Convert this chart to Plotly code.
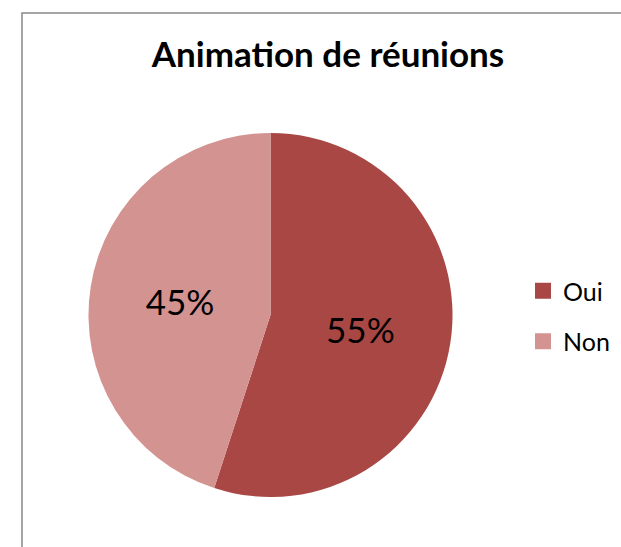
import plotly.graph_objects as go

# Survey answers
categories = ["Oui", "Non"]
shares = [55, 45]
colors = ["#A94744", "#D39391"]
title_text = "Animation de réunions"

W, H = 621, 547
FONT = "Lato"

fig = go.Figure()

fig.add_trace(go.Pie(
    labels=categories,
    values=shares,
    sort=False,
    direction="clockwise",
    rotation=0,
    marker=dict(colors=colors, line=dict(width=0)),
    textinfo="percent",
    texttemplate="%{percent:.0%}",
    textposition="inside",
    insidetextorientation="horizontal",
    insidetextfont=dict(family=FONT, size=35, color="#000000"),
    showlegend=False,
    hoverinfo="label+percent",
    domain=dict(x=[88 / W, 453 / W], y=[1 - 497 / H, 1 - 133 / H]),
))

# Legend entries, one group per category so the gap between them can be set
for name, col in zip(categories, colors):
    fig.add_trace(go.Scatter(
        x=[None], y=[None], mode="markers", name=name, legendgroup=name,
        marker=dict(symbol="square", size=16, color=col, line=dict(width=0)),
        showlegend=True,
    ))

fig.update_layout(
    width=W, height=H,
    margin=dict(l=0, r=0, t=0, b=0),
    paper_bgcolor="white",
    plot_bgcolor="rgba(0,0,0,0)",
    title=dict(text="<b>" + title_text + "</b>", x=328 / W, xanchor="center",
               y=1 - 55 / H, yanchor="middle",
               font=dict(family=FONT, size=35, color="#000000")),
    xaxis=dict(visible=False),
    yaxis=dict(visible=False),
    legend=dict(x=523 / W, xanchor="left", y=1 - 316 / H, yanchor="middle",
                font=dict(family=FONT, size=25, color="#000000"),
                tracegroupgap=15, itemclick=False, itemdoubleclick=False,
                bgcolor="rgba(0,0,0,0)"),
    shapes=[dict(type="rect", xref="paper", yref="paper",
                 x0=22 / W, x1=1.05, y0=-0.05, y1=1 - 13 / H,
                 line=dict(color="#888888", width=1.5),
                 fillcolor="rgba(0,0,0,0)", layer="below")],
)

fig.write_html("out.html")
